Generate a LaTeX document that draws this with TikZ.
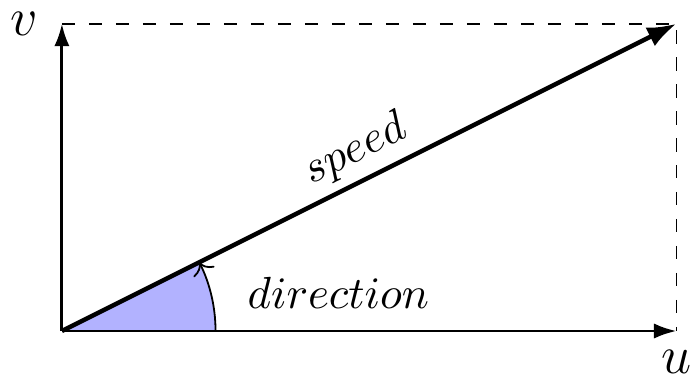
\documentclass[tikz,border=0pt]{standalone}
\usepackage{amsmath,amssymb}
\usetikzlibrary{positioning,arrows.meta}
\definecolor{anglefill}{RGB}{178,178,255}
\tikzset{
  axisline/.style={draw=black,line width=0.65pt,-{Latex[length=5pt,width=3.4pt]}},
  guideline/.style={draw=black,dashed,line width=0.4pt},
  vecline/.style={draw=black,line width=1pt,-{Latex[length=6.5pt,width=4.6pt]}},
  arcline/.style={draw=black,line width=0.4pt,-{To[length=2.5pt]}},
  axislabel/.style={font=\large,inner sep=1pt},
}

\begin{document}
\begin{tikzpicture}[scale=1.2]
        \useasboundingbox (-0.403,-0.3125) rectangle (4.102,2.155);
        \coordinate (O) at (0,0);
        \coordinate (U) at (4,0);
        \coordinate (V) at (0,2);
        \coordinate (P) at (4,2);
        \coordinate (A) at (1,0);
        % angle wedge
        \fill[anglefill] (O) -- (A) arc[start angle=0,end angle=26.565,radius=1] -- cycle;
        \draw[arcline] (A) arc[start angle=0,end angle=26.565,radius=1];
        % box and axes
        \draw[guideline] (V) -- (P) -- (U);
        \draw[axisline] (O) -- (U);
        \draw[axisline] (O) -- (V);
        \draw[vecline] (O) -- node[sloped,above,inner sep=1.8pt] (spd) {$speed$} (P);
        \node[axislabel,left=4.2pt] (vlab) at (V) {$v$};
        \node[axislabel,below=3pt] (ulab) at (U) {$u$};
        \node (dir) at (1.8,0.25) {$direction$};
      \end{tikzpicture}
\end{document}
